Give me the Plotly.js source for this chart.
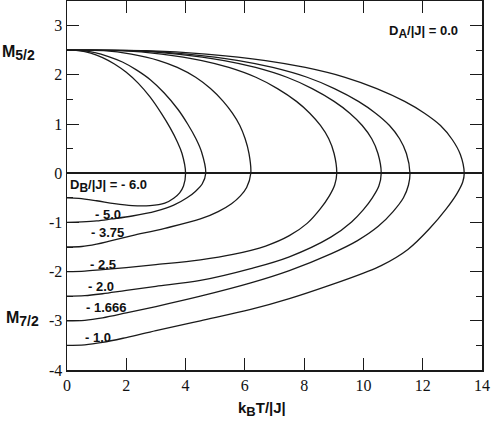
<!DOCTYPE html>
<html>
<head>
<meta charset="utf-8">
<script src="https://cdn.plot.ly/plotly-3.0.1.min.js"></script>
<style>
  html, body { margin: 0; padding: 0; background: #fff; }
  #chart { width: 491px; height: 421px; }
</style>
</head>
<body>
<div id="chart"></div>
<script>
// D_B/|J| values, one curve each (upper branch = M5/2, lower branch = M7/2)
const dbValues = ["- 6.0", "- 5.0", "- 3.75", "- 2.5", "- 2.0", "- 1.666", "- 1.0"];

// upper branches: M5/2 vs kT/|J|
const up60T = [0, 0.4, 0.8, 1.2, 1.6, 2.0, 2.4, 2.8, 3.2, 3.48, 3.72, 3.88, 4.0];
const up60M = [2.5, 2.49, 2.44, 2.35, 2.22, 2.05, 1.83, 1.55, 1.2, 0.92, 0.64, 0.4, 0];
const up50T = [0, 0.47, 0.94, 1.4, 1.87, 2.34, 2.81, 3.28, 3.74, 4.07, 4.35, 4.54, 4.68];
const up50M = [2.5, 2.49, 2.45, 2.37, 2.26, 2.1, 1.9, 1.63, 1.3, 1.0, 0.7, 0.43, 0];
const up375T = [0, 1.24, 2.17, 3.1, 3.72, 4.34, 4.84, 5.27, 5.58, 5.83, 6.01, 6.14, 6.2];
const up375M = [2.5, 2.49, 2.42, 2.29, 2.15, 1.95, 1.72, 1.46, 1.22, 0.97, 0.7, 0.4, 0];
const up25T = [0, 1.82, 3.19, 4.55, 5.46, 6.37, 7.1, 7.74, 8.19, 8.55, 8.83, 9.01, 9.1];
const up25M = [2.5, 2.49, 2.42, 2.29, 2.15, 1.95, 1.72, 1.46, 1.22, 0.97, 0.7, 0.4, 0];
const up20T = [0, 2.12, 3.71, 5.3, 6.36, 7.42, 8.27, 9.01, 9.54, 9.96, 10.28, 10.49, 10.6];
const up20M = [2.5, 2.49, 2.42, 2.29, 2.15, 1.95, 1.72, 1.46, 1.22, 0.97, 0.7, 0.4, 0];
const up1666T = [0, 2.31, 4.05, 5.79, 6.94, 8.1, 9.02, 9.83, 10.41, 10.88, 11.22, 11.45, 11.57];
const up1666M = [2.5, 2.49, 2.42, 2.29, 2.15, 1.95, 1.72, 1.46, 1.22, 0.97, 0.7, 0.4, 0];
const up10T = [0, 2.68, 4.69, 6.7, 8.04, 9.38, 10.45, 11.39, 12.06, 12.6, 13.0, 13.27, 13.4];
const up10M = [2.5, 2.49, 2.42, 2.29, 2.15, 1.95, 1.72, 1.46, 1.22, 0.97, 0.68, 0.38, 0];

// lower branches: M7/2 vs kT/|J|
const lo60T = [0, 0.4, 1.0, 1.6, 2.2, 2.8, 3.3, 3.6, 3.8, 3.93, 4.0];
const lo60M = [-0.5, -0.51, -0.56, -0.62, -0.66, -0.66, -0.61, -0.51, -0.4, -0.26, 0];
const lo50T = [0, 0.5, 1.0, 1.5, 2.2, 3.0, 3.6, 4.05, 4.35, 4.56, 4.68];
const lo50M = [-1.0, -0.99, -0.97, -0.93, -0.87, -0.77, -0.65, -0.5, -0.36, -0.22, 0];
const lo375T = [0, 0.5, 1.0, 1.5, 2.2, 3.3, 4.5, 5.1, 5.55, 5.85, 6.06, 6.2];
const lo375M = [-1.5, -1.49, -1.44, -1.37, -1.27, -1.12, -0.93, -0.78, -0.62, -0.46, -0.29, 0];
const lo25T = [0, 0.6, 1.2, 2, 3, 4.5, 5.6, 6.7, 7.5, 8.1, 8.55, 8.85, 9.03, 9.1];
const lo25M = [-2.0, -1.99, -1.96, -1.92, -1.86, -1.76, -1.65, -1.48, -1.27, -1.02, -0.72, -0.46, -0.24, 0];
const lo20T = [0, 0.6, 1.2, 2, 3, 4.5, 6.2, 7.5, 8.9, 9.6, 10.0, 10.3, 10.52, 10.6];
const lo20M = [-2.5, -2.49, -2.45, -2.38, -2.3, -2.18, -1.94, -1.7, -1.3, -0.99, -0.74, -0.5, -0.26, 0];
const lo1666T = [0, 0.6, 1.2, 2, 3, 4.5, 6.2, 7.5, 8.9, 9.8, 10.5, 11.0, 11.35, 11.52, 11.57];
const lo1666M = [-3.0, -2.99, -2.94, -2.84, -2.71, -2.5, -2.23, -1.98, -1.64, -1.37, -1.08, -0.78, -0.5, -0.24, 0];
const lo10T = [0, 0.6, 1.2, 2, 3, 4.5, 6.2, 7.5, 8.9, 10.0, 10.6, 11.5, 12.24, 12.8, 13.15, 13.35, 13.4];
const lo10M = [-3.5, -3.49, -3.44, -3.34, -3.2, -3.0, -2.77, -2.55, -2.27, -2.03, -1.88, -1.55, -1.12, -0.72, -0.42, -0.18, 0];

// label anchor points (data coords)
const labelT = [0.05, 0.88, 0.75, 0.71, 0.65, 0.58, 0.54];
const labelM = [-0.27, -0.83, -1.2, -1.85, -2.3, -2.72, -3.33];

const xTicks = [0, 2, 4, 6, 8, 10, 12, 14];
const yTicks = [-4, -3, -2, -1, 0, 1, 2, 3];

const uppers = [[up60T, up60M], [up50T, up50M], [up375T, up375M], [up25T, up25M],
                [up20T, up20M], [up1666T, up1666M], [up10T, up10M]];
const lowers = [[lo60T, lo60M], [lo50T, lo50M], [lo375T, lo375M], [lo25T, lo25M],
                [lo20T, lo20M], [lo1666T, lo1666M], [lo10T, lo10M]];

// join each upper branch with its lower branch through T = Tc
const traces = uppers.map((u, i) => {
  const lo = lowers[i];
  const x = u[0].concat(lo[0].slice().reverse().slice(1));
  const y = u[1].concat(lo[1].slice().reverse().slice(1));
  return {
    x: x, y: y, type: "scatter", mode: "lines",
    line: { color: "#1a1a1a", width: 1.3, shape: "spline", smoothing: 1 },
    hoverinfo: "skip", showlegend: false,
  };
});
// empty traces so the top and right axes (ticks only) get drawn
traces.push({ x: [], y: [], xaxis: "x2", yaxis: "y", type: "scatter", mode: "lines", showlegend: false });
traces.push({ x: [], y: [], xaxis: "x", yaxis: "y2", type: "scatter", mode: "lines", showlegend: false });

const sans = "Liberation Sans, Arial, sans-serif";
const bold = { family: sans, size: 13, color: "#111", weight: "bold" };
const big = { family: sans, size: 16, color: "#111", weight: "bold" };

// subscript kept close to full size, as in the original figure
const sub = (s, px) => "<sub><span style=\"font-size:" + px + "px\">" + s + "</span></sub>";

const annotations = dbValues.map((v, i) => ({
  x: labelT[i], y: labelM[i], xref: "x", yref: "y",
  text: (i === 0 ? "D" + sub("B", 12) + "/|J| = " : "") + v,
  showarrow: false, xanchor: "left", yanchor: "middle", font: bold,
}));

annotations.push(
  { x: 10.8, y: 2.87, xref: "x", yref: "y", text: "D" + sub("A", 12) + "/|J| = 0.0",
    showarrow: false, xanchor: "left", yanchor: "middle", font: bold },
  { x: -0.116, y: 0.86, xref: "paper", yref: "paper", text: "M" + sub("5/2", 14),
    showarrow: false, xanchor: "center", yanchor: "middle", font: big },
  { x: -0.108, y: 0.137, xref: "paper", yref: "paper", text: "M" + sub("7/2", 14),
    showarrow: false, xanchor: "center", yanchor: "middle", font: big },
  { x: 0.47, y: -0.105, xref: "paper", yref: "paper", text: "k" + sub("B", 13) + "T/|J|",
    showarrow: false, xanchor: "center", yanchor: "middle", font: Object.assign({}, big, { size: 15 }) }
);

const tickFont = { family: "Liberation Serif, Times New Roman, serif", size: 16, color: "#111" };
const ink = "#1a1a1a";

const xBase = {
  range: [0, 14], tickmode: "array", tickvals: xTicks,
  ticks: "inside", ticklen: 12, tickwidth: 1, tickcolor: ink,
  showline: true, linecolor: ink, linewidth: 1.5,
  showgrid: false, zeroline: false,
};
const yBase = {
  range: [-4, 3.5], tickmode: "array", tickvals: yTicks,
  ticks: "inside", ticklen: 12, tickwidth: 1, tickcolor: ink,
  minor: { tickmode: "linear", tick0: 0, dtick: 0.5, ticks: "inside", ticklen: 6, tickwidth: 1, tickcolor: ink, showgrid: false },
  showline: true, linecolor: ink, linewidth: 1.5,
  showgrid: false,
};

const layout = {
  width: 491, height: 421,
  margin: { l: 67, r: 9, t: 1, b: 51 },
  paper_bgcolor: "#fff", plot_bgcolor: "#fff",
  showlegend: false,
  xaxis: Object.assign({}, xBase, { ticktext: xTicks.map(String), tickfont: tickFont }),
  yaxis: Object.assign({}, yBase, { ticktext: yTicks.map(String), tickfont: tickFont,
    zeroline: true, zerolinecolor: ink, zerolinewidth: 1.8 }),
  xaxis2: Object.assign({}, xBase, { overlaying: "x", side: "top", anchor: "y", showticklabels: false }),
  yaxis2: Object.assign({}, yBase, { overlaying: "y", side: "right", anchor: "x", showticklabels: false, zeroline: false }),
  annotations: annotations,
};

Plotly.newPlot("chart", traces, layout, { displayModeBar: false, staticPlot: true });
</script>
</body>
</html>
